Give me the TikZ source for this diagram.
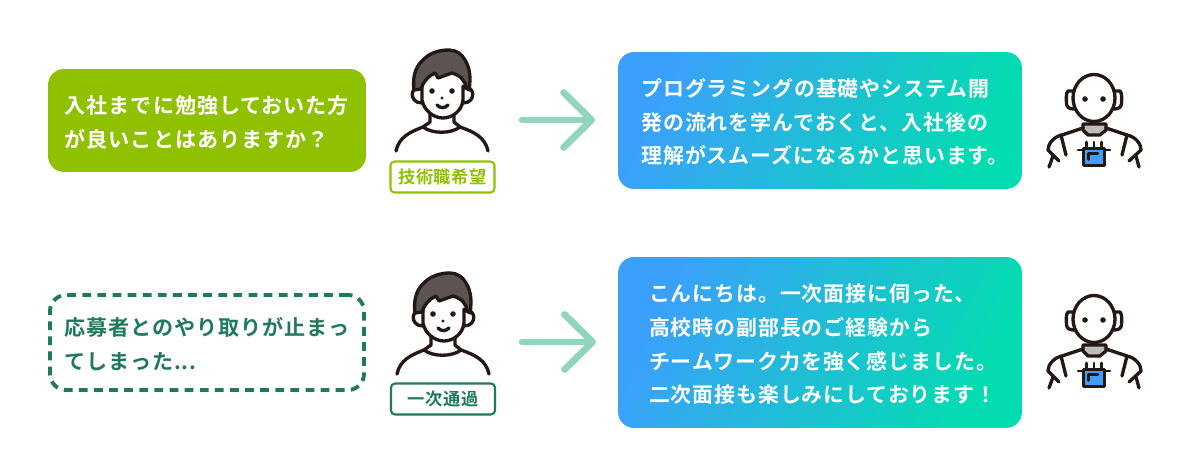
\documentclass[tikz,border=0pt]{standalone}
\usepackage{fontspec}
\usepackage{xcolor}
\usetikzlibrary{positioning, arrows.meta}
\newfontfamily\jpfont[LetterSpace=4.5]{Noto Sans CJK JP Bold}
\newfontfamily\tagfont[LetterSpace=3.5]{Noto Sans CJK JP Bold}
\newcommand{\linedrop}{\rule{0pt}{12.2pt}}
\definecolor{leafgreen}{HTML}{8FC100}
\definecolor{pinegreen}{HTML}{1F7A5C}
\definecolor{arrowmint}{HTML}{92D5BD}
\definecolor{skyblue}{HTML}{3BA0FC}
\definecolor{seagreen}{HTML}{03DCB0}
\definecolor{inkline}{HTML}{231815}
\definecolor{hairgray}{HTML}{5E5353}
\definecolor{neckgray}{HTML}{BDBDBD}
\definecolor{chipblue}{HTML}{409EFF}
\tikzset{
    msgtext/.style={font=\jpfont\fontsize{11.9}{19.2}\selectfont, align=left, inner sep=0pt},
    shorttext/.style={font=\jpfont\fontsize{12}{19.2}\selectfont, align=left, inner sep=0pt},
    askbox/.style={shorttext, rounded corners=0.32cm, fill=leafgreen, text=white, minimum width=6.36cm, minimum height=2.06cm},
    stallbox/.style={shorttext, rounded corners=0.32cm, draw=pinegreen, line width=2.2pt, dash pattern=on 5pt off 3.6pt, text=pinegreen, minimum width=6.28cm, minimum height=1.9cm},
    replybox/.style={msgtext, rounded corners=0.32cm, top color=skyblue, bottom color=seagreen, shading angle=65, text=white, minimum width=8.08cm},
    tagbox/.style={font=\tagfont\fontsize{9.8}{11}\selectfont, rounded corners=0.08cm, fill=white, line width=1.2pt, inner sep=0pt, minimum width=2.08cm, minimum height=0.62cm},
    flowarrow/.style={draw=arrowmint, line width=3.9pt, line cap=round, -{Straight Barb[length=0.56cm, width=1.1cm, round]}},
    inkstroke/.style={draw=inkline, line width=1.9pt, line cap=round, line join=round},
    chipstroke/.style={draw=inkline, line width=1.5pt, line cap=round, line join=round},
    person/.pic={
        % shoulders and neck
        \draw[inkstroke] (-46,51) .. controls (-43,37) and (-32,32) .. (-19,27);
        \draw[inkstroke] (46,51) .. controls (43,37) and (32,32) .. (18,27);
        \draw[inkstroke] (-12,13) -- (-12,22) -- (-19,27) .. controls (-10,34) and (9,34) .. (18,27) -- (12,22) -- (12,13);
        % ears and face
        \draw[inkstroke, fill=white] (-20,-12) .. controls (-32,-16) and (-34,3) .. (-20,3);
        \draw[inkstroke, fill=white] (21,-12) .. controls (33,-16) and (35,3) .. (21,3);
        \draw[inkstroke, fill=white] (-20,-14) -- (-20,0) .. controls (-18,11) and (-8,18) .. (1,18) .. controls (10,18) and (20,11) .. (21,0) -- (21,-14);
        % hair
        \draw[inkstroke, fill=hairgray] (-28,-10) .. controls (-30,-26) and (-25,-35) .. (-18,-41) .. controls (-12,-47) and (-3,-50) .. (7,-50) .. controls (14,-50) and (20,-46) .. (23,-40) .. controls (28,-32) and (29,-22) .. (27,-10) -- (24,-12) .. controls (23,-20) and (19,-24) .. (10,-27) -- (-4,-22) -- (-7,-27) .. controls (-14,-24) and (-19,-18) .. (-21,-11) -- cycle;
        % eyes, nose and mouth
        \foreach \x in {-10,10} {
            \fill[inkline] (\x,-9) circle (2.8);
        }
        \fill[inkline] (0,-2) circle (1.7);
        \draw[inkstroke] (-5,5) .. controls (-2,8.5) and (3,8.5) .. (6,5);
    },
    robot/.pic={
        % neck
        \draw[inkstroke, fill=neckgray] (-11,25) -- (-11,31) -- (-6,36) -- (6,36) -- (12,31) -- (12,25) -- cycle;
        % ears and head
        \draw[inkstroke, fill=white] (-19,-8) -- (-26,-8) .. controls (-28.5,-6) and (-27.5,2) .. (-27.5,5) .. controls (-27,9) and (-24,10) .. (-19,10);
        \draw[inkstroke, fill=white] (19,-8) -- (26,-8) .. controls (28.5,-6) and (27.5,2) .. (27.5,5) .. controls (27,9) and (24,10) .. (19,10);
        \draw[inkstroke, fill=white] (0,-1) ellipse (21 and 23.5);
        \foreach \x in {-9,9} {
            \fill[inkline] (\x,0) circle (2.8);
        }
        % arms
        \draw[inkstroke] (-11,29) -- (-32,36) .. controls (-41,38) and (-46,45) .. (-46,51) -- (-35,62);
        \draw[inkstroke] (12,29) -- (33,36) .. controls (42,38) and (47,45) .. (47,51) -- (35,62);
        \draw[inkstroke] (-33,36) -- (-28,56);
        \draw[inkstroke] (33,36) -- (28,56);
        \draw[inkstroke] (-41,57) -- (-45,68);
        \draw[inkstroke] (42,57) -- (45,68);
        % chip on the chest
        \foreach \x in {-7.5,0,7.5} {
            \draw[chipstroke] (\x,43) -- (\x,49);
        }
        \draw[chipstroke] (-16,51) -- (16,51);
        \draw[chipstroke, fill=chipblue] (-10.8,49.5) rectangle (10.8,66.8);
        \draw[chipstroke] (-5.5,60.5) -- (-5.5,54.5) -- (4,54.5);
    }
}
\begin{document}
\begin{tikzpicture}[x=0.02cm, y=-0.02cm]
    \useasboundingbox (0,0) rectangle (1190,476);
    % Primera fila
    \node[askbox] (askq) at (207,120.5) {\linedrop 入社までに勉強しておいた方\\が良いことはありますか？};
    \pic at (442,100) {person};
    \node[tagbox, draw=leafgreen, text=leafgreen] (tagtech) at (442.5,177) {技術職希望};
    \coordinate (arrowa) at (522,120);
    \coordinate (arrowb) at (595,120);
    \draw[flowarrow] (arrowa) -- (arrowb);
    \node[replybox, minimum height=2.74cm] (replyq) at (820,120.5) {\linedrop プログラミングの基礎やシステム開\\発の流れを学んでおくと、入社後の\\理解がスムーズになるかと思います。\kern-0.2cm};
    \pic at (1094,99) {robot};
    % Segunda fila
    \node[stallbox] (stallq) at (207,342.5) {\linedrop 応募者とのやり取りが止まっ\\てしまった...};
    \pic at (443,323) {person};
    \node[tagbox, draw=pinegreen, text=pinegreen] (tagpass) at (443,399) {一次通過};
    \coordinate (arrowc) at (522,342);
    \coordinate (arrowd) at (596,342);
    \draw[flowarrow] (arrowc) -- (arrowd);
    \node[replybox, minimum height=3.42cm] (replyh) at (820,342.5) {\linedrop こんにちは。一次面接に伺った、\\高校時の副部長のご経験から\\チームワーク力を強く感じました。\kern-0.12cm\\二次面接も楽しみにしております！\kern-0.12cm};
    \pic at (1094,320) {robot};
\end{tikzpicture}
\end{document}
